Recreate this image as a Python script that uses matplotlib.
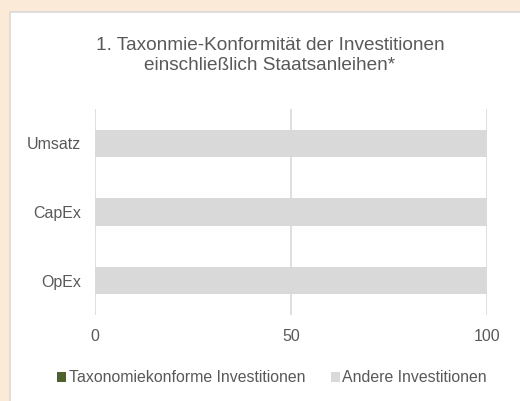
import matplotlib
matplotlib.use("Agg")
import matplotlib.pyplot as plt
from matplotlib.patches import Rectangle
import numpy as np

categories = ["Umsatz", "CapEx", "OpEx"]
taxonomy_aligned = [0, 0, 0]
other = [100, 100, 100]
xticks = [0, 50, 100]
series_names = ["Taxonomiekonforme Investitionen", "Andere Investitionen"]
colors = ["#4F6228", "#D9D9D9"]
title_lines = ["1. Taxonmie-Konformität der Investitionen", "einschließlich Staatsanleihen*"]

plt.rcParams['font.family'] = ['Liberation Sans', 'DejaVu Sans']
text_color = "#595959"

fig = plt.figure(figsize=(5.2, 4.01), dpi=100)
fig.patch.set_facecolor("#FBEAD8")
bg = fig.add_axes([0, 0, 1, 1], zorder=0)
bg.set_axis_off()
bg.set_xlim(0, 1)
bg.set_ylim(0, 1)
bg.add_patch(Rectangle((10/520, -0.1), 1.2, 0.1 + (401-12)/401,
                       facecolor="white", edgecolor="#D9D9D9", linewidth=1.2))

ax = fig.add_axes([95/520, 1-315/401, (487-95)/520, (315-109)/401], zorder=1)
ax.set_facecolor("none")
y = np.arange(len(categories))
ax.barh(y, taxonomy_aligned, height=0.4, color=colors[0], label=series_names[0], zorder=2)
ax.barh(y, other, left=taxonomy_aligned, height=0.4, color=colors[1], label=series_names[1], zorder=2)
ax.set_ylim(len(categories) - 0.5, -0.5)
ax.set_xlim(0, 100)
ax.set_yticks(y)
ax.set_yticklabels(categories)
ax.set_xticks(xticks)
ax.set_xticklabels([str(v) for v in xticks])
for s in ax.spines.values():
    s.set_visible(False)
ax.grid(axis='x', color="#D9D9D9", linewidth=1.2, zorder=1)
ax.set_axisbelow(True)
ax.tick_params(length=0, colors=text_color, labelsize=11.5)
ax.tick_params(axis='x', pad=10)
ax.tick_params(axis='y', pad=10)

fig.text(270/520, 1-45/401, title_lines[0], ha='center', va='center', fontsize=13.7, color=text_color)
fig.text(270/520, 1-65/401, title_lines[1], ha='center', va='center', fontsize=13.7, color=text_color)

leg = fig.legend(loc='center', bbox_to_anchor=(272/520, 1-378/401), ncol=2, frameon=False,
                 fontsize=11.4, handlelength=0.6, handleheight=0.6, handletextpad=0.15,
                 columnspacing=1.6, labelcolor=text_color)

fig.savefig("out.png", dpi=100, facecolor=fig.get_facecolor())
